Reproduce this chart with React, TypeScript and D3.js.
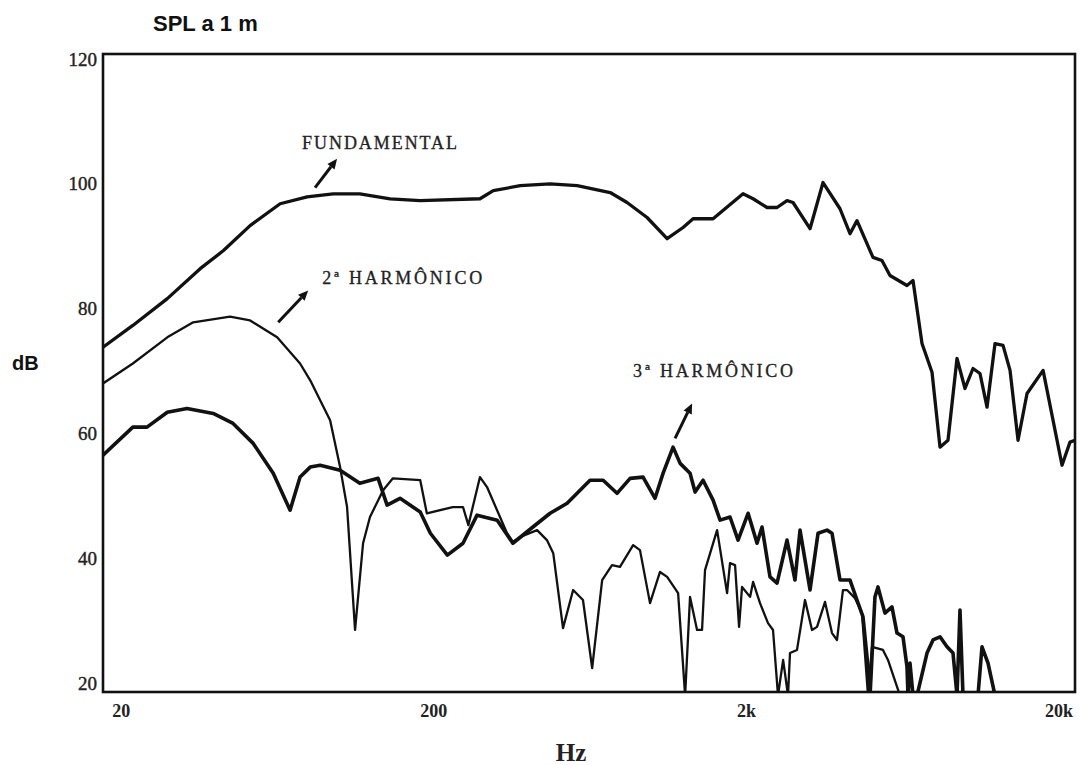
import React, { useEffect, useRef } from "react";
import * as d3 from "d3";

// ---------- data (Hz, dB) ----------
const fundamentalHz = [17.5, 21.8, 28.1, 35.8, 42.5, 51.7, 64.5, 78.7, 95.3, 116, 145, 181, 281, 310, 378, 471, 575, 733, 830, 962, 1115, 1254, 1350, 1564, 1950, 2100, 2327, 2505, 2696, 2818, 3194, 3515, 3983, 4287, 4514, 5078, 5425, 5755, 6523, 6818, 7286, 7843, 8318, 8823, 9428, 9999, 10607, 11167, 11760, 12473, 13232, 13932, 14778, 15790, 17771, 20431, 21666, 22480];
const fundamentalDb = [73.8, 77.3, 81.6, 86.4, 89.3, 93.3, 96.8, 97.9, 98.4, 98.4, 97.6, 97.3, 97.6, 98.9, 99.7, 100.0, 99.7, 98.6, 97.0, 94.6, 91.2, 93.0, 94.4, 94.4, 98.4, 97.6, 96.2, 96.2, 97.3, 97.0, 92.8, 100.2, 96.0, 92.0, 94.1, 88.2, 87.7, 85.3, 83.7, 84.5, 74.4, 69.8, 57.8, 58.9, 72.0, 67.2, 70.4, 69.6, 64.2, 74.4, 74.1, 70.1, 58.9, 66.4, 70.1, 54.9, 58.6, 58.9];

const harm2Hz = [17.5, 21.8, 28.1, 34.0, 44.6, 51.7, 63.1, 74.7, 80.5, 86.6, 93.2, 100.3, 105.6, 112, 118.8, 125, 137.7, 148, 181, 190, 230, 248, 258, 281, 296, 343, 358, 378, 428, 460, 482, 518, 558, 600, 642, 691, 743, 788, 868, 913, 983, 1058, 1115, 1209, 1273, 1320, 1390, 1442, 1474, 1611, 1734, 1772, 1839, 1894, 1936, 2054, 2100, 2210, 2344, 2432, 2523, 2620, 2716, 2756, 2902, 3078, 3241, 3363, 3567, 3755, 3896, 4070, 4194, 4448, 4683, 4895, 5041, 5465, 5671, 6195];
const harm2Db = [68.0, 71.2, 75.4, 77.8, 78.7, 78.1, 75.4, 71.2, 68.5, 65.3, 62.1, 54.6, 48.2, 28.5, 42.4, 46.6, 50.9, 52.8, 52.5, 47.2, 48.2, 48.2, 45.3, 53.0, 51.4, 44.0, 42.6, 43.4, 44.5, 42.9, 40.8, 28.8, 34.9, 33.3, 22.4, 36.5, 38.9, 38.6, 42.1, 41.3, 32.8, 37.8, 37.0, 34.4, 18, 33.8, 28.5, 28.5, 38.1, 44.5, 34.4, 39.2, 38.9, 29.0, 35.4, 33.8, 36.2, 32.8, 29.6, 28.5, 18, 23.7, 18, 24.8, 25.3, 33.3, 28.5, 29.0, 33.0, 28.0, 26.9, 34.9, 34.9, 33.6, 31.2, 18, 25.8, 25.3, 23.7, 18];

const harm3Hz = [17.5, 21.8, 24.2, 28.1, 32.5, 39.4, 45.6, 52.9, 61.3, 69.4, 74.7, 80.5, 86.6, 100.3, 116, 132.7, 141.8, 156, 181, 195, 221, 248, 275, 319, 358, 415, 471, 534, 632, 696, 771, 849, 934, 1020, 1082, 1165, 1227, 1320, 1370, 1453, 1564, 1647, 1772, 1880, 2024, 2162, 2243, 2379, 2505, 2696, 2859, 2967, 3194, 3388, 3620, 3755, 3983, 4287, 4514, 4718, 4895, 4970, 5152, 5268, 5547, 5840, 6060, 6334, 6523, 6572, 6669, 6818, 7023, 7560, 7901, 8318, 8758, 9154, 9428, 9637, 9853, 11003, 11333, 11847, 12473];
const harm3Db = [56.5, 61.0, 61.0, 63.4, 64.0, 63.2, 61.6, 58.4, 53.6, 47.7, 53.0, 54.6, 54.9, 54.1, 52.0, 52.8, 48.5, 49.6, 47.4, 44.0, 40.5, 42.4, 46.9, 46.1, 42.4, 45.0, 47.2, 48.8, 52.5, 52.5, 50.4, 52.8, 53.0, 49.6, 53.6, 57.8, 55.2, 53.6, 50.6, 52.5, 49.3, 46.1, 46.6, 42.9, 47.2, 42.4, 45.0, 37.0, 36.0, 42.9, 36.5, 44.5, 34.9, 44.0, 44.5, 44.0, 36.5, 36.5, 33.3, 30.6, 22.6, 18, 33.8, 35.4, 31.2, 32.2, 28.0, 27.4, 22.6, 18, 23.2, 18, 18, 24.8, 26.9, 27.4, 25.8, 24.8, 18, 31.7, 18, 18, 25.8, 23.2, 18];

const yTicks = [20, 40, 60, 80, 100, 120];
const xTicks = [20, 200, 2000, 20000];
const xTickLabels = ["20", "200", "2k", "20k"];

// annotations: label text, label anchor (Hz, dB), arrow tail and head (Hz, dB)
const labelTexts = ["FUNDAMENTAL", "2ª HARMÔNICO", "3ª HARMÔNICO"];
const labelHz = [75.8, 87.9, 868];
const labelDb = [105.6, 84.0, 69.0];
const arrowTailHz = [83.4, 63.6, 1182];
const arrowTailDb = [99.4, 77.8, 59.2];
const arrowHeadHz = [98.1, 79.3, 1340];
const arrowHeadDb = [104.0, 82.9, 64.8];

const W = 1082;
const H = 765;
const plot = { left: 103, right: 1075, top: 54, bottom: 692 };

export default function App() {
  const ref = useRef<SVGSVGElement>(null);

  useEffect(() => {
    const svg = d3.select(ref.current);
    svg.selectAll("*").remove();

    const x = d3.scaleLog().domain([17.5, 22480]).range([plot.left, plot.right]);
    const y = d3.scaleLinear().domain([18.56, 120.8]).range([plot.bottom, plot.top]);

    svg.append("rect").attr("width", W).attr("height", H).attr("fill", "#ffffff");

    const defs = svg.append("defs");
    defs
      .append("clipPath")
      .attr("id", "plotclip")
      .append("rect")
      .attr("x", plot.left)
      .attr("y", plot.top)
      .attr("width", plot.right - plot.left)
      .attr("height", plot.bottom - plot.top);

    const line = d3
      .line<[number, number]>()
      .x((d) => x(d[0]))
      .y((d) => y(d[1]))
      .curve(d3.curveLinear);

    const g = svg.append("g").attr("clip-path", "url(#plotclip)");
    const series = [
      { hz: harm2Hz, db: harm2Db, w: 2.3 },
      { hz: harm3Hz, db: harm3Db, w: 3.6 },
      { hz: fundamentalHz, db: fundamentalDb, w: 3.3 },
    ];
    series.forEach((s) => {
      const pts = s.hz.map((f, i) => [f, s.db[i]] as [number, number]);
      g.append("path")
        .attr("d", line(pts))
        .attr("fill", "none")
        .attr("stroke", "#111")
        .attr("stroke-width", s.w)
        .attr("stroke-linejoin", "round")
        .attr("stroke-linecap", "round");
    });

    // frame
    svg
      .append("rect")
      .attr("x", plot.left)
      .attr("y", plot.top)
      .attr("width", plot.right - plot.left)
      .attr("height", plot.bottom - plot.top)
      .attr("fill", "none")
      .attr("stroke", "#111")
      .attr("stroke-width", 2.6);

    const serif = "'Liberation Serif', 'DejaVu Serif', serif";
    const sans = "'Liberation Sans', Arial, sans-serif";

    // y tick labels
    svg
      .append("g")
      .selectAll("text")
      .data(yTicks)
      .join("text")
      .attr("x", 97)
      .attr("y", (d) => y(d))
      .attr("dy", "0.35em")
      .attr("text-anchor", "end")
      .attr("font-family", serif)
      .attr("font-size", 19)
      .attr("fill", "#222")
      .attr("stroke", "#222")
      .attr("stroke-width", 0.4)
      .text((d) => String(d));

    // x tick labels
    svg
      .append("g")
      .selectAll("text")
      .data(xTicks)
      .join("text")
      .attr("x", (d) => x(d))
      .attr("y", 717)
      .attr("text-anchor", "middle")
      .attr("font-family", serif)
      .attr("font-weight", "bold")
      .attr("font-size", 18)
      .attr("fill", "#222")
      .text((d, i) => xTickLabels[i]);

    // titles
    svg
      .append("text")
      .attr("x", 153)
      .attr("y", 31)
      .attr("font-family", sans)
      .attr("font-weight", "bold")
      .attr("font-size", 22)
      .attr("fill", "#111")
      .text("SPL a 1 m");

    svg
      .append("text")
      .attr("x", 12)
      .attr("y", 370)
      .attr("font-family", sans)
      .attr("font-weight", "bold")
      .attr("font-size", 20)
      .attr("fill", "#111")
      .text("dB");

    svg
      .append("text")
      .attr("x", 571)
      .attr("y", 761)
      .attr("text-anchor", "middle")
      .attr("font-family", serif)
      .attr("font-weight", "bold")
      .attr("font-size", 25)
      .attr("fill", "#222")
      .text("Hz");

    // annotations
    const ann = svg.append("g");
    labelTexts.forEach((t, i) => {
      ann
        .append("text")
        .attr("x", x(labelHz[i]))
        .attr("y", y(labelDb[i]))
        .attr("font-family", serif)
        .attr("font-size", 18)
        .attr("textLength", t === "FUNDAMENTAL" ? 155 : 160)
        .attr("lengthAdjust", "spacing")
        .attr("fill", "#222")
        .attr("stroke", "#222")
        .attr("stroke-width", 0.3)
        .text(t);

      const x1 = x(arrowTailHz[i]);
      const y1 = y(arrowTailDb[i]);
      const x2 = x(arrowHeadHz[i]);
      const y2 = y(arrowHeadDb[i]);
      const ang = Math.atan2(y2 - y1, x2 - x1);
      const hl = 10;
      const hw = 4.5;
      const bx = x2 - hl * Math.cos(ang);
      const by = y2 - hl * Math.sin(ang);
      ann
        .append("line")
        .attr("x1", x1)
        .attr("y1", y1)
        .attr("x2", bx)
        .attr("y2", by)
        .attr("stroke", "#111")
        .attr("stroke-width", 3);
      const px = -Math.sin(ang);
      const py = Math.cos(ang);
      ann
        .append("polygon")
        .attr(
          "points",
          `${x2},${y2} ${bx + hw * px},${by + hw * py} ${bx - hw * px},${by - hw * py}`
        )
        .attr("fill", "#111");
    });
  }, []);

  return (
    <svg
      ref={ref}
      width={W}
      height={H}
      style={{ display: "block", position: "absolute", left: 0, top: 0 }}
    />
  );
}
